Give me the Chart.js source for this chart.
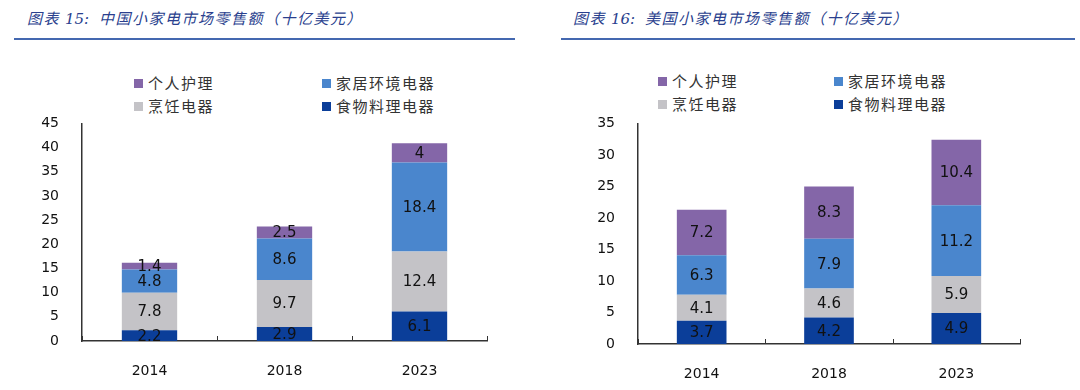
<!DOCTYPE html>
<html>
<head>
<meta charset="utf-8">
<script src="https://cdn.jsdelivr.net/npm/chart.js@4"></script>
<style>
  body { margin: 0; width: 1080px; height: 390px; background: #fff; position: relative; overflow: hidden; }
  .title { position: absolute; top: 7px; font: italic 15px "Noto Sans CJK SC"; color: #2a3f8e; letter-spacing: 1.5px; white-space: nowrap; }
  .title .num { font-family: "DejaVu Serif"; letter-spacing: 0; margin-right: 10px; }
  .rule { position: absolute; top: 38px; height: 2px; background: #4468b0; }
  .legend-item { position: absolute; font: 15px "Noto Sans CJK SC"; color: #333; letter-spacing: 1.5px; white-space: nowrap; line-height: 18px; }
  .legend-item span { display: inline-block; width: 9px; height: 9px; margin-right: 5px; vertical-align: 1px; }
  canvas { position: absolute; }
</style>
</head>
<body>
<div class="title" style="left:27px">图表 <span class="num">15:</span>中国小家电市场零售额（十亿美元）</div>
<div class="rule" style="left:14px; width:501px"></div>
<div class="title" style="left:573px">图表 <span class="num">16:</span>美国小家电市场零售额（十亿美元）</div>
<div class="rule" style="left:561px; width:514px"></div>
<div id="legend-cn"></div>
<div id="legend-us"></div>
<canvas id="chart-cn" width="540" height="281" style="left:0; top:100px"></canvas>
<canvas id="chart-us" width="540" height="284" style="left:540px; top:100px"></canvas>
<script>
const years = ['2014', '2018', '2023'];
const seriesNames = ['食物料理电器', '烹饪电器', '家居环境电器', '个人护理'];
const seriesColors = ['#0b3e99', '#c4c3c7', '#4a86cd', '#8466a8'];
// legend is read row by row: 个人护理, 家居环境电器 / 烹饪电器, 食物料理电器
const legendOrder = [3, 2, 1, 0];

// China, billion USD
const cnFood = [2.2, 2.9, 6.1];
const cnCooking = [7.8, 9.7, 12.4];
const cnHome = [4.8, 8.6, 18.4];
const cnCare = [1.4, 2.5, 4];

// US, billion USD
const usFood = [3.7, 4.2, 4.9];
const usCooking = [4.1, 4.6, 5.9];
const usHome = [6.3, 7.9, 11.2];
const usCare = [7.2, 8.3, 10.4];

const axisFont = { family: 'DejaVu Sans', size: 14 };

// value labels in the middle of each segment + small upward ticks between years
const barLabels = {
    id: 'barLabels',
    afterDatasetsDraw(chart) {
        const ctx = chart.ctx;
        ctx.save();
        ctx.font = '15px "DejaVu Sans"';
        ctx.fillStyle = '#111';
        ctx.textAlign = 'center';
        ctx.textBaseline = 'middle';
        chart.data.datasets.forEach((ds, i) => {
            chart.getDatasetMeta(i).data.forEach((bar, j) => {
                ctx.fillText(String(ds.data[j]), bar.x, (bar.y + bar.base) / 2 + 1);
            });
        });
        const xs = chart.scales.x;
        const bottom = chart.chartArea.bottom;
        ctx.strokeStyle = '#333';
        ctx.lineWidth = 1;
        for (let k = 0; k <= years.length; k++) {
            const px = Math.round(xs.getPixelForValue(k - 0.5)) + 0.5;
            ctx.beginPath();
            ctx.moveTo(px, bottom);
            ctx.lineTo(px, bottom - 5);
            ctx.stroke();
        }
        ctx.restore();
    }
};

function makeChart(id, series, yMax, axisWidth, padRight, padTop, barPct) {
    const datasets = series.map((data, i) => ({
        label: seriesNames[i],
        data: data,
        backgroundColor: seriesColors[i],
        borderWidth: 0,
        categoryPercentage: 1,
        barPercentage: barPct
    }));
    return new Chart(document.getElementById(id), {
        type: 'bar',
        data: { labels: years, datasets: datasets },
        options: {
            responsive: false,
            animation: false,
            layout: { padding: { top: padTop, right: padRight, left: 0, bottom: 0 } },
            plugins: { legend: { display: false }, tooltip: { enabled: false } },
            scales: {
                x: {
                    stacked: true,
                    grid: { display: false },
                    border: { color: '#333', width: 1.5 },
                    ticks: { color: '#111', font: axisFont, padding: 14 },
                    afterFit(scale) { scale.height = 40; }
                },
                y: {
                    stacked: true,
                    min: 0,
                    max: yMax,
                    grid: { display: false },
                    border: { color: '#333', width: 1.5 },
                    ticks: { stepSize: 5, color: '#111', font: axisFont, padding: 15 },
                    afterFit(scale) { scale.width = axisWidth; }
                }
            }
        },
        plugins: [barLabels]
    });
}

function makeLegend(id, cols, rows) {
    const box = document.getElementById(id);
    legendOrder.forEach((s, n) => {
        const item = document.createElement('div');
        item.className = 'legend-item';
        item.style.left = cols[n % 2] + 'px';
        item.style.top = (rows[Math.floor(n / 2)] - 9) + 'px';
        item.innerHTML = '<span style="background:' + seriesColors[s] + '"></span>' + seriesNames[s];
        box.appendChild(item);
    });
}

makeChart('chart-cn', [cnFood, cnCooking, cnHome, cnCare], 45, 82, 53, 22, 0.41);
makeChart('chart-us', [usFood, usCooking, usHome, usCare], 35, 98, 60, 19, 0.39);
makeLegend('legend-cn', [134, 322], [83, 106]);
makeLegend('legend-us', [658, 834], [81, 104]);
</script>
</body>
</html>
